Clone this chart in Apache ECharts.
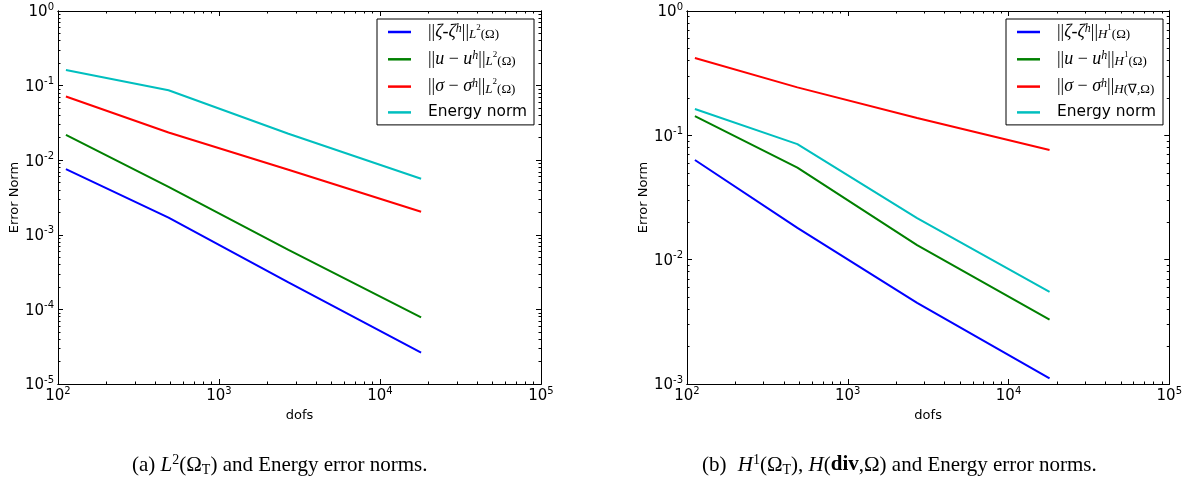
<!DOCTYPE html>
<html>
<head>
<meta charset="utf-8">
<script src="https://cdn.jsdelivr.net/npm/echarts@6/dist/echarts.min.js"></script>
<style>html,body{margin:0;padding:0;background:#fff}#c{width:1185px;height:489px}</style>
</head>
<body>
<div id="c"></div>
<script>
// ---- data ----
var dofs = [112, 486, 2700, 18000];
var leftZeta   = [0.0076, 0.0017, 0.00023, 0.0000264];
var leftU      = [0.0219, 0.0044, 0.00063, 0.000078];
var leftSigma  = [0.0713, 0.0235, 0.00745, 0.00204];
var leftEnergy = [0.162, 0.0867, 0.0226, 0.00564];
var rightZeta   = [0.0633, 0.018, 0.0045, 0.00111];
var rightU      = [0.143, 0.055, 0.0131, 0.0033];
var rightSigma  = [0.419, 0.243, 0.138, 0.0762];
var rightEnergy = [0.163, 0.085, 0.0216, 0.0055];
var xMajor = [100, 1000, 10000, 100000];
var yMajorLeft = [1e-5, 1e-4, 1e-3, 1e-2, 1e-1, 1];
var yMajorRight = [1e-3, 1e-2, 1e-1, 1];
var xLabel = 'dofs';
var yLabel = 'Error Norm';
var leftNames = ['L2 zeta', 'L2 u', 'L2 sigma', 'L2 energy'];
var rightNames = ['H1 zeta', 'H1 u', 'Hdiv sigma', 'H energy'];
var colors = ['#0000ff', '#008000', '#ff0000', '#00bfbf'];

function minors(lo, hi) {
  var out = [];
  for (var e = lo; e < hi; e++) {
    for (var k = 2; k <= 9; k++) out.push(k * Math.pow(10, e));
  }
  return out;
}
var xMinor = minors(2, 5);
var yMinorLeft = minors(-5, 0);
var yMinorRight = minors(-3, 0);

var tickRich = {
  b: {fontFamily: 'DejaVu Sans', fontSize: 15, color: '#000', lineHeight: 18, verticalAlign: 'bottom'},
  s: {fontFamily: 'DejaVu Sans', fontSize: 10, color: '#000', lineHeight: 10, verticalAlign: 'top'}
};
function powFmt(v) {
  var e = Math.round(Math.log(v) / Math.LN10);
  return '{b|10}{s|' + e + '}';
}
var lineCol = '#000';

function xAxes(g) {
  var base = {type: 'log', logBase: 10, gridIndex: g, min: 100, max: 100000,
    splitLine: {show: false}, axisLine: {show: true, lineStyle: {color: lineCol, width: 1}}};
  return [
    Object.assign({}, base, {position: 'bottom',
      axisTick: {inside: true, length: 5, customValues: xMajor, lineStyle: {color: lineCol}},
      axisLabel: {customValues: xMajor, formatter: powFmt, rich: tickRich, margin: 2},
      name: xLabel, nameLocation: 'middle', nameGap: 21,
      nameTextStyle: {fontFamily: 'DejaVu Sans', fontSize: 13, color: '#000'}}),
    Object.assign({}, base, {position: 'top',
      axisTick: {inside: true, length: 5, customValues: xMajor, lineStyle: {color: lineCol}},
      axisLabel: {show: false}}),
    Object.assign({}, base, {position: 'bottom',
      axisTick: {inside: true, length: 2.5, customValues: xMinor, lineStyle: {color: lineCol}},
      axisLabel: {show: false}}),
    Object.assign({}, base, {position: 'top',
      axisTick: {inside: true, length: 2.5, customValues: xMinor, lineStyle: {color: lineCol}},
      axisLabel: {show: false}})
  ];
}
function yAxes(g, lo, hi, major, minor) {
  var base = {type: 'log', logBase: 10, gridIndex: g, min: lo, max: hi,
    splitLine: {show: false}, axisLine: {show: true, lineStyle: {color: lineCol, width: 1}}};
  return [
    Object.assign({}, base, {position: 'left',
      axisTick: {inside: true, length: 5, customValues: major, lineStyle: {color: lineCol}},
      axisLabel: {customValues: major, formatter: powFmt, rich: tickRich, margin: 4},
      name: yLabel, nameLocation: 'middle', nameGap: 36, nameRotate: 90,
      nameTextStyle: {fontFamily: 'DejaVu Sans', fontSize: 13, color: '#000'}}),
    Object.assign({}, base, {position: 'right',
      axisTick: {inside: true, length: 5, customValues: major, lineStyle: {color: lineCol}},
      axisLabel: {show: false}}),
    Object.assign({}, base, {position: 'left',
      axisTick: {inside: true, length: 2.5, customValues: minor, lineStyle: {color: lineCol}},
      axisLabel: {show: false}}),
    Object.assign({}, base, {position: 'right',
      axisTick: {inside: true, length: 2.5, customValues: minor, lineStyle: {color: lineCol}},
      axisLabel: {show: false}})
  ];
}

function mkSeries(name, arr, color, axisIdx) {
  return {name: name, type: 'line', xAxisIndex: axisIdx, yAxisIndex: axisIdx,
    data: dofs.map(function (x, i) { return [x, arr[i]]; }),
    symbol: 'none', lineStyle: {width: 2, color: color}, itemStyle: {color: color},
    emphasis: {disabled: true}, z: 3};
}

var legRich = {
  sp: {width: 12},
  n: {fontFamily: 'Liberation Serif', fontSize: 18, color: '#000', lineHeight: 18, verticalAlign: 'middle'},
  i: {fontFamily: 'Liberation Serif', fontStyle: 'italic', fontSize: 18, color: '#000', lineHeight: 18, verticalAlign: 'middle'},
  sup: {fontFamily: 'Liberation Serif', fontStyle: 'italic', fontSize: 12, color: '#000', lineHeight: 6, verticalAlign: 'top'},
  sub: {fontFamily: 'Liberation Serif', fontStyle: 'italic', fontSize: 13, color: '#000', lineHeight: 8, verticalAlign: 'bottom'},
  subn: {fontFamily: 'Liberation Serif', fontSize: 13, color: '#000', lineHeight: 8, verticalAlign: 'bottom'},
  subs: {fontFamily: 'Liberation Serif', fontSize: 9, color: '#000', lineHeight: 17, verticalAlign: 'top'},
  e: {fontFamily: 'DejaVu Sans', fontSize: 15.4, color: '#000', lineHeight: 18, verticalAlign: 'middle'}
};
var legText = {
  'L2 zeta': '{sp|}{n|||}{i|ζ}{n|-}{i|ζ}{sup|h}{n|||}{sub|L}{subs|2}{subn|(Ω)}',
  'L2 u': '{sp|}{n|||}{i|u}{n| − }{i|u}{sup|h}{n|||}{sub|L}{subs|2}{subn|(Ω)}',
  'L2 sigma': '{sp|}{n|||}{i|σ}{n| − }{i|σ}{sup|h}{n|||}{sub|L}{subs|2}{subn|(Ω)}',
  'L2 energy': '{sp|}{e|Energy norm}',
  'H1 zeta': '{sp|}{n|||}{i|ζ}{n|-}{i|ζ}{sup|h}{n|||}{sub|H}{subs|1}{subn|(Ω)}',
  'H1 u': '{sp|}{n|||}{i|u}{n| − }{i|u}{sup|h}{n|||}{sub|H}{subs|1}{subn|(Ω)}',
  'Hdiv sigma': '{sp|}{n|||}{i|σ}{n| − }{i|σ}{sup|h}{n|||}{sub|H}{subn|(∇,Ω)}',
  'H energy': '{sp|}{e|Energy norm}'
};
function mkLegend(names, right) {
  return {data: names, orient: 'vertical', right: right, top: 19,
    backgroundColor: '#fff', borderColor: '#000', borderWidth: 1, borderRadius: 0,
    padding: [4, 7, 5, 11], itemGap: 9.3, itemWidth: 23, itemHeight: 2.5,
    icon: 'rect',
    selectedMode: false,
    formatter: function (n) { return legText[n]; },
    textStyle: {rich: legRich, color: '#000'}};
}

var capRich = {
  n: {fontFamily: 'Liberation Serif', fontSize: 21, color: '#000', lineHeight: 24, verticalAlign: 'middle'},
  i: {fontFamily: 'Liberation Serif', fontStyle: 'italic', fontSize: 21, color: '#000', lineHeight: 24, verticalAlign: 'middle'},
  bo: {fontFamily: 'Liberation Serif', fontWeight: 'bold', fontSize: 21, color: '#000', lineHeight: 24, verticalAlign: 'middle'},
  sup: {fontFamily: 'Liberation Serif', fontSize: 14, color: '#000', lineHeight: 13, verticalAlign: 'top'},
  sub: {fontFamily: 'Liberation Serif', fontSize: 14, color: '#000', lineHeight: 10, verticalAlign: 'bottom'},
  g: {width: 6}
};

var option = {
  animation: false,
  backgroundColor: '#fff',
  grid: [
    {left: 58, top: 11, width: 483, height: 373},
    {left: 687, top: 11, width: 483, height: 373}
  ],
  xAxis: xAxes(0).concat(xAxes(1)),
  yAxis: yAxes(0, 1e-5, 1, yMajorLeft, yMinorLeft).concat(yAxes(1, 1e-3, 1, yMajorRight, yMinorRight)),
  legend: [mkLegend(leftNames, 651), mkLegend(rightNames, 22)],
  series: [
    mkSeries(leftNames[0], leftZeta, colors[0], 0),
    mkSeries(leftNames[1], leftU, colors[1], 0),
    mkSeries(leftNames[2], leftSigma, colors[2], 0),
    mkSeries(leftNames[3], leftEnergy, colors[3], 0),
    mkSeries(rightNames[0], rightZeta, colors[0], 4),
    mkSeries(rightNames[1], rightU, colors[1], 4),
    mkSeries(rightNames[2], rightSigma, colors[2], 4),
    mkSeries(rightNames[3], rightEnergy, colors[3], 4)
  ],
  graphic: [
    {type: 'text', left: 132, top: 453, style: {
      text: '{n|(a) }{i|L}{sup|2}{n|(Ω}{sub|T}{n|) and Energy error norms.}', rich: capRich}},
    {type: 'text', left: 702, top: 453, style: {
      text: '{n|(b) }{g|}{i|H}{sup|1}{n|(Ω}{sub|T}{n|), }{i|H}{n|(}{bo|div}{n|,Ω) and Energy error norms.}', rich: capRich}}
  ]
};
var chart = echarts.init(document.getElementById('c'), null, {renderer: 'canvas'});
chart.setOption(option);
</script>
</body>
</html>
